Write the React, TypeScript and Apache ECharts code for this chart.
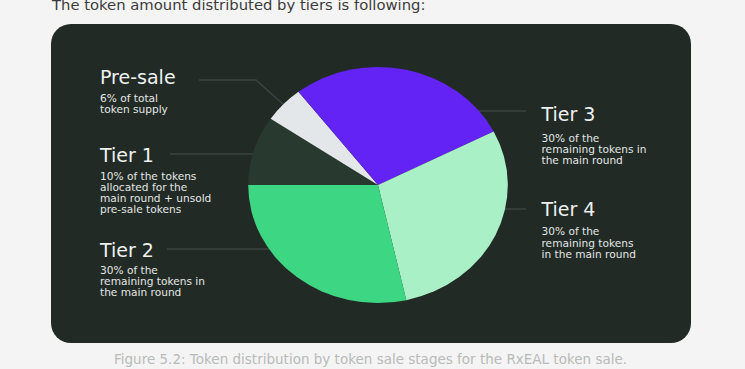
import { useEffect, useRef } from "react";
import * as echarts from "echarts";

// Slices listed clockwise, starting at the 9 o'clock position
const categories = ["Tier 1", "Pre-sale", "Tier 3", "Tier 4", "Tier 2"];
const shares = [9.5, 5, 28, 29, 28.5];
const sliceColors = ["#283A30", "#E4E7EA", "#6423F5", "#A9F0C7", "#3DD683"];

const headerText = "The token amount distributed by tiers is following:";
const captionText =
  "Figure 5.2: Token distribution by token sale stages for the RxEAL token sale.";

const labelTitles = ["Pre-sale", "Tier 1", "Tier 2", "Tier 3", "Tier 4"];
const labelNotes = [
  "6% of total\ntoken supply",
  "10% of the tokens\nallocated for the\nmain round + unsold\npre-sale tokens",
  "30% of the\nremaining tokens in\nthe main round",
  "30% of the\nremaining tokens in\nthe main round",
  "30% of the\nremaining tokens\nin the main round",
];

const FONT = "'DejaVu Sans', sans-serif";

export default function App() {
  const ref = useRef<HTMLDivElement>(null);

  useEffect(() => {
    if (!ref.current) return;
    const chart = echarts.init(ref.current, undefined, { renderer: "svg" });
    const total = shares.reduce((a, b) => a + b, 0);

    const cx = 378;
    const cy = 185;
    const r = 118;
    const sx = 1.1;

    // label layout: [x, titleCenterY, notesFirstLineCenterY]
    const labelPos: [number, number, number][] = [
      [100, 76.7, 98],
      [100, 155.3, 176],
      [100, 249.7, 269.7],
      [541.5, 113.9, 138],
      [541.5, 208.7, 231.4],
    ];
    const lh = 11.1;

    const leaderLines: number[][][] = [
      [[199, 80], [256, 80], [284, 105]],
      [[170, 154], [254, 154]],
      [[167, 249], [270, 249]],
      [[478, 111], [526, 111]],
      [[503, 209], [526, 209]],
    ];

    const graphics: any[] = [
      {
        type: "rect",
        z: 0,
        shape: { x: 51, y: 24, width: 640, height: 319, r: 20 },
        style: { fill: "#222A26" },
      },
      {
        type: "text",
        z: 5,
        style: {
          text: headerText,
          x: 52,
          y: 4.5,
          verticalAlign: "middle",
          fill: "#3c3c3c",
          fontSize: 14.8,
          fontFamily: FONT,
        },
      },
      {
        type: "text",
        z: 5,
        style: {
          text: captionText,
          x: 114,
          y: 358.8,
          verticalAlign: "middle",
          fill: "#b7bbb9",
          fontSize: 13.5,
          fontFamily: FONT,
        },
      },
    ];

    leaderLines.forEach((pts) => {
      graphics.push({
        type: "polyline",
        z: 1,
        shape: { points: pts },
        style: { stroke: "#3b4440", lineWidth: 1.5, fill: null },
      });
    });

    labelTitles.forEach((t, i) => {
      const [x, ty, ny] = labelPos[i];
      graphics.push({
        type: "text",
        z: 5,
        style: {
          text: t,
          x,
          y: ty,
          verticalAlign: "middle",
          fill: "#eef1ef",
          fontSize: 19,
          fontWeight: 500,
          fontFamily: FONT,
        },
      });
      graphics.push({
        type: "text",
        z: 5,
        style: {
          text: labelNotes[i],
          x,
          y: ny - lh / 2,
          verticalAlign: "top",
          lineHeight: lh,
          fill: "#e2e6e4",
          fontSize: 10.6,
          fontFamily: FONT,
        },
      });
    });

    chart.setOption({
      animation: false,
      backgroundColor: "#F4F4F4",
      graphic: { elements: graphics },
      series: [
        {
          type: "custom",
          coordinateSystem: "none",
          z: 3,
          data: categories.map((c, i) => ({ name: c, value: [i, shares[i]] })),
          renderItem: (params: any, api: any) => {
            const idx = params.dataIndex;
            let before = 0;
            for (let j = 0; j < idx; j++) before += shares[j];
            const start = Math.PI + (before / total) * Math.PI * 2;
            const end = start + (api.value(1) / total) * Math.PI * 2;
            return {
              type: "sector",
              x: cx,
              y: cy,
              scaleX: sx,
              scaleY: 1,
              shape: { cx: 0, cy: 0, r0: 0, r, startAngle: start, endAngle: end, clockwise: true },
              style: { fill: sliceColors[idx] },
            };
          },
        },
      ],
    });

    return () => chart.dispose();
  }, []);

  return (
    <div
      ref={ref}
      style={{ position: "fixed", left: 0, top: 0, width: 745, height: 369 }}
    />
  );
}
